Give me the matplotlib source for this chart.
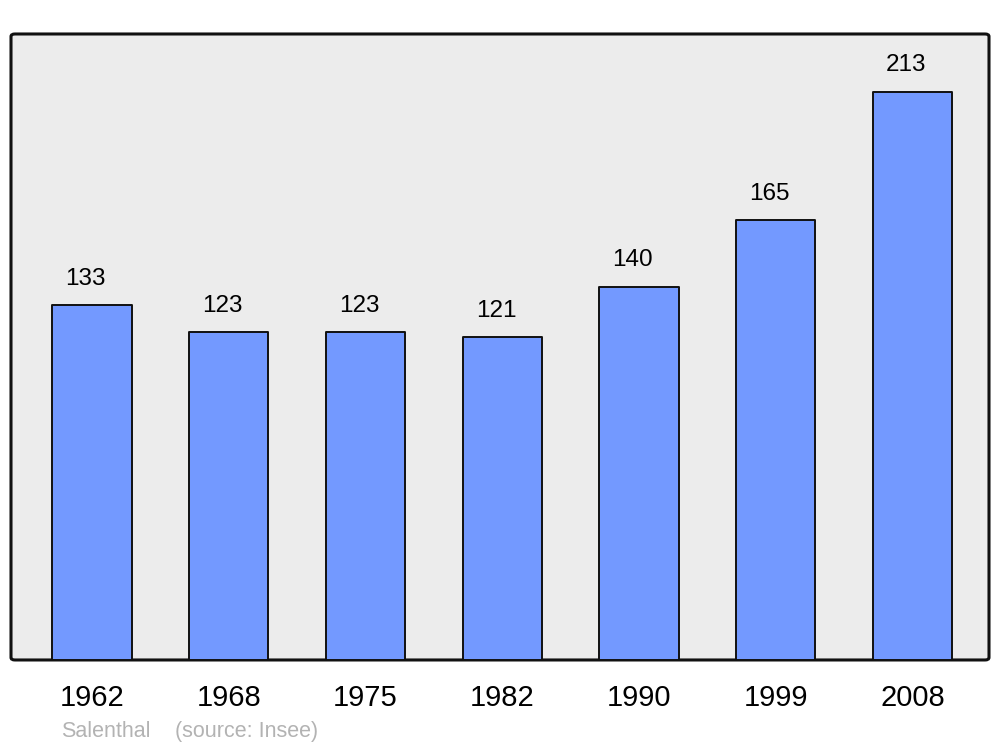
import matplotlib
matplotlib.use("Agg")
from matplotlib import pyplot as plt
import matplotlib.patches as patches

years = ["1962", "1968", "1975", "1982", "1990", "1999", "2008"]
population = [133, 123, 123, 121, 140, 165, 213]
commune = "Salenthal"
source = "(source: Insee)"

plt.rcParams['font.family'] = ['Liberation Sans', 'DejaVu Sans']

fig = plt.figure(figsize=(10, 7.47), dpi=100)
ax = fig.add_axes([0.011, 0.1165, 0.978, 0.838])
ax.set_facecolor('none')

# rounded frame with grey fill
frame = patches.FancyBboxPatch((0, 0), 1, 1, boxstyle="round,pad=0,rounding_size=0.004",
                               transform=ax.transAxes, facecolor='#ececec',
                               edgecolor='#111111', linewidth=2.2, zorder=0,
                               clip_on=False)
ax.add_patch(frame)
for s in ax.spines.values():
    s.set_visible(False)

x = list(range(len(years)))
bars = ax.bar(x, population, width=0.58, color='#7399ff', edgecolor='#111111',
              linewidth=1.4, zorder=2)
for b in bars:
    b.set_joinstyle('round')

for xi, v in zip(x, population):
    ax.annotate(str(v), (xi, v), xytext=(-4.5, 19), textcoords='offset points',
                ha='center', va='center', fontsize=17.5, color='black')

ax.set_xlim(-0.592, 6.559)
ax.set_ylim(0, 234.7)
ax.set_yticks([])
ax.set_xticks(x, years, fontsize=21)
ax.tick_params(axis='x', length=0, pad=17)

fig.text(0.061, 0.021, commune, fontsize=15.5, color='#b3b3b3', ha='left', va='center')
fig.text(0.175, 0.021, source, fontsize=15.5, color='#b3b3b3', ha='left', va='center')

fig.savefig("out.png", dpi=100)
